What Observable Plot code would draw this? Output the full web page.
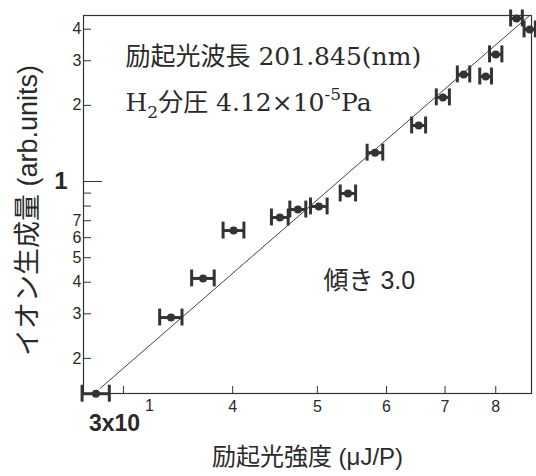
<!DOCTYPE html>
<html><head><meta charset="utf-8">
<script src="https://cdn.jsdelivr.net/npm/d3@7"></script>
<script src="https://cdn.jsdelivr.net/npm/@observablehq/plot@0.6"></script>
<style>
body{margin:0;background:#fff;}
#chart svg{display:block;}
</style></head><body><div id="chart"></div>
<script>
// Data (excitation intensity in μJ/P, ion yield in arb. units)
const intensity    = [27.9, 34.0, 37.0, 40.1, 45.3, 47.5, 50.2, 54.2, 58.2, 65.3, 69.6, 73.5, 77.9, 80.0, 84.5, 87.5];
const ionYield     = [0.145, 0.290, 0.414, 0.640, 0.721, 0.775, 0.797, 0.897, 1.30, 1.665, 2.15, 2.65, 2.60, 3.18, 4.41, 3.99];
const intensityErr = [1.0, 1.0, 1.1, 1.1, 1.0, 1.0, 1.1, 1.1, 1.2, 1.2, 1.2, 1.2, 1.2, 1.3, 1.3, 1.3];
// Fitted line, slope 3.0 (two end points)
const fitIntensity = [28.2, 87.5];
const fitYield     = [0.152, 4.54];
// Ticks
const xTickValues = [30, 40, 50, 60, 70, 80];
const xTickLabels = ["", "4", "5", "6", "7", "8"];
const xFirstBase = "3x10";
const xFirstExp = "1";
const yTickValues = [0.2, 0.3, 0.4, 0.5, 0.6, 0.7, 0.8, 0.9, 1, 2, 3, 4];
const yTickLabels = ["2", "3", "4", "5", "6", "7", "", "", "", "2", "3", "4"];
const yUnitValue = [1];
const yUnitLabel = "1";
// Texts
const xTitle = "励起光強度 (μJ/P)";
const yTitle = "イオン生成量 (arb.units)";
const note1 = "励起光波長 201.845(nm)";
const note2Parts = ["H", "2", "分圧 4.12×10", "-5", "Pa"];
const note2Kinds = ["", "sub", "", "sup", ""];
const note3 = "傾き 3.0";
const note2 = note2Parts.join("");

const points = intensity.map((x, i) => ({x, y: ionYield[i], e: intensityErr[i]}));
const fit = fitIntensity.map((x, i) => ({x, y: fitYield[i]}));

const W = 536, H = 476, mL = 83, mR = 5, mT = 15, mB = 83;
const plotW = W - mL - mR, plotH = H - mT - mB;
const sans = "'Liberation Sans', 'Noto Sans CJK JP', sans-serif";
const serif = "'DejaVu Serif', 'Noto Sans CJK JP', serif";
const ink = "#2a2a2a";
const capK = 1.08;

const chart = Plot.plot({
  width: W, height: H,
  marginLeft: mL, marginRight: mR, marginTop: mT, marginBottom: mB,
  style: {fontFamily: sans, color: ink, background: "#fff"},
  x: {type: "log", domain: [27.0, 87.9]},
  y: {type: "log", domain: [0.1453, 4.53]},
  marks: [
    Plot.frame({stroke: "#333", strokeWidth: 1.2}),
    // inward ticks
    Plot.tickY(yTickValues.filter(v => v !== 1), {y: d => d, stroke: "#333", insetRight: plotW - 8}),
    Plot.tickY(yUnitValue, {y: d => d, stroke: "#333", insetRight: plotW - 19}),
    Plot.tickX(xTickValues, {x: d => d, stroke: "#333", insetTop: plotH - 7}),
    // tick labels
    Plot.axisX({ticks: xTickValues, tickSize: 0, tickPadding: 7, fontSize: 16,
      tickFormat: d => xTickLabels[xTickValues.indexOf(d)], label: null}),
    Plot.axisY({ticks: yTickValues, tickSize: 0, tickPadding: 2, fontSize: 16,
      tickFormat: d => yTickLabels[yTickValues.indexOf(d)], label: null}),
    Plot.text(yUnitValue, {y: d => d, frameAnchor: "left", dx: -16, textAnchor: "end", lineAnchor: "middle",
      text: () => yUnitLabel, fontSize: 24, fontWeight: "bold", fill: ink}),
    Plot.text([xTickValues[0]], {x: d => d, frameAnchor: "bottom", dy: 30, dx: -9, lineAnchor: "middle", textAnchor: "middle",
      text: () => xFirstBase, fontSize: 23, fontWeight: "bold", fill: ink}),
    Plot.text([xTickValues[0]], {x: d => d, frameAnchor: "bottom", dy: 12, dx: 26, lineAnchor: "middle", textAnchor: "middle",
      text: () => xFirstExp, fontSize: 16, fill: ink}),
    // titles
    Plot.text([xTitle], {frameAnchor: "bottom", dy: 64, lineAnchor: "middle", textAnchor: "middle",
      text: d => d, fontSize: 24, fill: ink}),
    Plot.text([yTitle], {frameAnchor: "left", dx: -55, dy: 6, rotate: -90, textAnchor: "middle", lineAnchor: "middle",
      text: d => d, fontSize: 27, fill: ink}),
    // annotations
    Plot.text([note1], {frameAnchor: "top-left", dx: 42, dy: 41, textAnchor: "start", lineAnchor: "middle",
      text: d => d, fontSize: 25, fontFamily: serif, fill: ink}),
    Plot.text([note2], {frameAnchor: "top-left", dx: 42, dy: 87, textAnchor: "start", lineAnchor: "middle",
      text: d => d, fontSize: 25, fontFamily: serif, fill: ink}),
    Plot.text([note3], {frameAnchor: "top-left", dx: 240, dy: 265, textAnchor: "start", lineAnchor: "middle",
      text: d => d, fontSize: 25, fill: ink}),
    // fit line
    Plot.line(fit, {x: "x", y: "y", stroke: "#444", strokeWidth: 1}),
    // error bars
    Plot.ruleY(points, {y: "y", x1: d => d.x - d.e, x2: d => d.x + d.e, stroke: "#333", strokeWidth: 3}),
    Plot.ruleX(points, {x: d => d.x - d.e, y1: d => d.y / capK, y2: d => d.y * capK, stroke: "#333", strokeWidth: 3}),
    Plot.ruleX(points, {x: d => d.x + d.e, y1: d => d.y / capK, y2: d => d.y * capK, stroke: "#333", strokeWidth: 3}),
    Plot.dot(points, {x: "x", y: "y", r: 4, fill: "#333"})
  ]
});

// subscript / superscript in the second annotation
const t2 = Array.from(chart.querySelectorAll("text")).find(e => e.textContent === note2);
if (t2) {
  t2.textContent = "";
  let shift = 0;
  note2Parts.forEach((p, i) => {
    const s = document.createElementNS("http://www.w3.org/2000/svg", "tspan");
    s.textContent = p;
    const target = note2Kinds[i] === "sub" ? 7 : note2Kinds[i] === "sup" ? -11 : 0;
    s.setAttribute("dy", target - shift);
    shift = target;
    if (note2Kinds[i]) s.setAttribute("font-size", 17);
    t2.appendChild(s);
  });
}
document.getElementById("chart").appendChild(chart);
</script>
</body></html>
